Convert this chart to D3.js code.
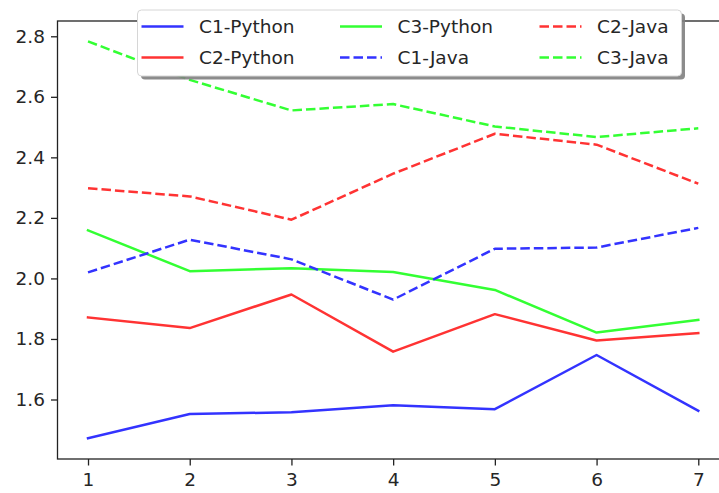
<!DOCTYPE html>
<html>
<head>
<meta charset="utf-8">
<script src="https://cdn.jsdelivr.net/npm/d3@7"></script>
<style>
  html, body { margin: 0; padding: 0; background: #fff; }
  svg { display: block; }
  text { font-family: "DejaVu Sans", sans-serif; fill: #262626; }
</style>
</head>
<body>
<svg id="chart" width="719" height="493"></svg>
<script>
// ---- data ----
const xValues = [1, 2, 3, 4, 5, 6, 7];
const seriesNames = ["C1-Python", "C2-Python", "C3-Python", "C1-Java", "C2-Java", "C3-Java"];
const c1Python = [1.472, 1.552, 1.558, 1.581, 1.568, 1.747, 1.563];
const c2Python = [1.871, 1.836, 1.947, 1.758, 1.882, 1.795, 1.819];
const c3Python = [2.159, 2.024, 2.034, 2.021, 1.962, 1.821, 1.863];
const c1Java   = [2.020, 2.128, 2.063, 1.930, 2.098, 2.102, 2.167];
const c2Java   = [2.298, 2.271, 2.194, 2.346, 2.478, 2.442, 2.313];
const c3Java   = [2.783, 2.656, 2.555, 2.576, 2.502, 2.467, 2.496];
const yTicks = [1.6, 1.8, 2.0, 2.2, 2.4, 2.6, 2.8];
const xTicks = [1, 2, 3, 4, 5, 6, 7];

const seriesValues = [c1Python, c2Python, c3Python, c1Java, c2Java, c3Java];
const seriesColors = ["rgb(51,51,255)", "rgb(255,51,51)", "rgb(51,255,51)",
                      "rgb(51,51,255)", "rgb(255,51,51)", "rgb(51,255,51)"];
const seriesDashed = [false, false, false, true, true, true];

// ---- layout ----
const svg = d3.select("#chart");
const plot = { left: 57.5, right: 728.8, top: 21, bottom: 459 };
const x = d3.scaleLinear().domain([0.7, 7.3]).range([plot.left, plot.right]);
const y = d3.scaleLinear().domain([1.4034, 2.8505]).range([plot.bottom, plot.top]);
const fontSize = 18.5;
const lw = 2.5;
const dash = "9.5,4";

// lines
const line = d3.line().x((d, i) => x(xValues[i])).y(d => y(d));
seriesValues.forEach((vals, k) => {
  svg.append("path")
    .attr("d", line(vals))
    .attr("fill", "none")
    .attr("stroke", seriesColors[k])
    .attr("stroke-width", lw)
    .attr("stroke-dasharray", seriesDashed[k] ? dash : null)
    .attr("stroke-linejoin", "round")
    .attr("stroke-linecap", seriesDashed[k] ? "butt" : "square");
});

// axes
const xAxis = d3.axisBottom(x).tickValues(xTicks).tickSize(6.5).tickPadding(7).tickFormat(d3.format("d"));
const yAxis = d3.axisLeft(y).tickValues(yTicks).tickSize(6.5).tickPadding(6).tickFormat(d3.format(".1f"));

const gx = svg.append("g").attr("transform", `translate(0,${plot.bottom})`).call(xAxis);
const gy = svg.append("g").attr("transform", `translate(${plot.left},0)`).call(yAxis);
[gx, gy].forEach(g => {
  g.select(".domain").remove();
  g.selectAll(".tick line").attr("stroke", "#222").attr("stroke-width", 1.3);
  g.selectAll(".tick text").attr("font-size", fontSize).attr("font-family", "DejaVu Sans").attr("fill", "#262626");
});

// spines
svg.append("rect")
  .attr("x", plot.left).attr("y", plot.top)
  .attr("width", plot.right - plot.left).attr("height", plot.bottom - plot.top)
  .attr("fill", "none").attr("stroke", "#222").attr("stroke-width", 1.3);

// legend
const leg = { x: 137.5, y: 10, w: 544, h: 66 };
svg.append("rect")
  .attr("x", leg.x + 3.5).attr("y", leg.y + 3.5)
  .attr("width", leg.w).attr("height", leg.h).attr("rx", 4)
  .attr("fill", "#7f7f7f").attr("opacity", 0.9);
svg.append("rect")
  .attr("x", leg.x).attr("y", leg.y)
  .attr("width", leg.w).attr("height", leg.h).attr("rx", 4)
  .attr("fill", "#fff").attr("stroke", "#d6d6d6").attr("stroke-width", 1);

const colX = [141.5, 340, 539.5];
const rowY = [26.5, 57.5];
const handleLen = 42;
const textGap = 15.5;
seriesNames.forEach((name, k) => {
  const col = Math.floor(k / 2), row = k % 2;
  const hx = colX[col], hy = rowY[row];
  svg.append("line")
    .attr("x1", hx).attr("x2", hx + handleLen)
    .attr("y1", hy).attr("y2", hy)
    .attr("stroke", seriesColors[k]).attr("stroke-width", lw)
    .attr("stroke-dasharray", seriesDashed[k] ? dash : null);
  svg.append("text")
    .attr("x", hx + handleLen + textGap).attr("y", hy)
    .attr("dy", "0.35em")
    .attr("font-size", fontSize)
    .text(name);
});
</script>
</body>
</html>
